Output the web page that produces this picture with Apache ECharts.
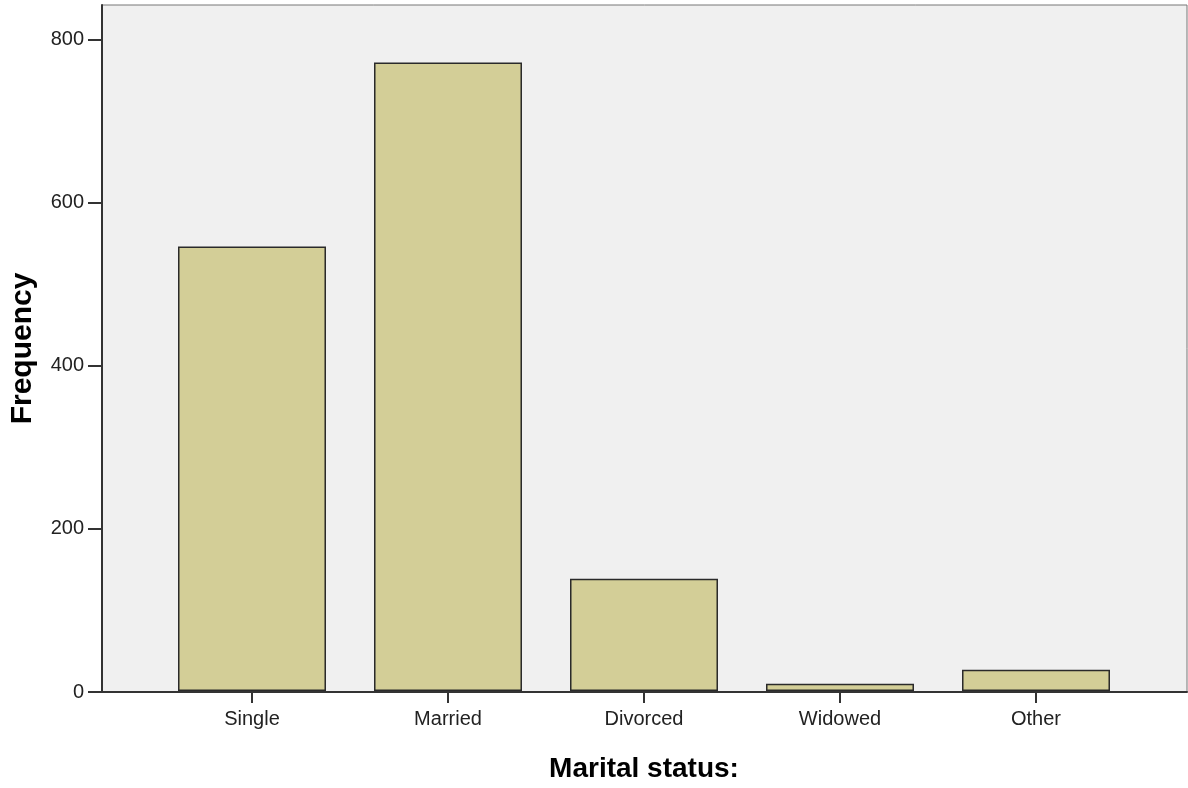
<!DOCTYPE html>
<html>
<head>
<meta charset="utf-8">
<script src="https://cdn.jsdelivr.net/npm/echarts@6/dist/echarts.min.js"></script>
<style>
html,body{margin:0;padding:0;background:#fff;}
#chart{width:1188px;height:788px;}
</style>
</head>
<body>
<div id="chart"></div>
<script>
const categories = ['Single', 'Married', 'Divorced', 'Widowed', 'Other'];
const frequencies = [546, 772, 138, 9, 26];
const yTicks = [0, 200, 400, 600, 800];
const yMax = 842.5;

const chart = echarts.init(document.getElementById('chart'), null, {renderer: 'canvas'});
const FONT = '"Liberation Sans", Arial, sans-serif';
chart.setOption({
  animation: false,
  backgroundColor: '#ffffff',
  grid: [
    {left: 99, right: 1, top: 5, bottom: 96, show: true, backgroundColor: '#f0f0f0', borderColor: '#777', borderWidth: 1},
    {left: 154, right: 54, top: 5, bottom: 96}
  ],
  xAxis: [
    {gridIndex: 0, type: 'value', min: 0, max: 1,
      axisLine: {show: true, onZero: false, lineStyle: {color: '#333', width: 2}},
      axisTick: {show: false}, axisLabel: {show: false}, splitLine: {show: false}},
    {gridIndex: 1, type: 'category', data: categories,
      axisLine: {show: false},
      axisTick: {show: true, alignWithLabel: true, length: 12, lineStyle: {color: '#333', width: 2}},
      axisLabel: {fontSize: 20, color: '#222', margin: 18, fontFamily: FONT},
      name: 'Marital status:', nameLocation: 'middle', nameGap: 64,
      nameTextStyle: {fontSize: 28, fontWeight: 'bold', color: '#000', fontFamily: FONT}}
  ],
  yAxis: [
    {gridIndex: 0, type: 'value', min: 0, max: yMax,
      axisLine: {show: true, lineStyle: {color: '#333', width: 2}},
      axisTick: {show: true, length: 14, customValues: yTicks, lineStyle: {color: '#333', width: 2}},
      axisLabel: {fontSize: 20, color: '#222', margin: 18, customValues: yTicks, fontFamily: FONT},
      splitLine: {show: false},
      name: 'Frequency', nameLocation: 'middle', nameGap: 64,
      nameTextStyle: {fontSize: 30, fontWeight: 'bold', color: '#000', fontFamily: FONT}},
    {gridIndex: 1, type: 'value', min: 0, max: yMax, show: false, splitLine: {show: false}}
  ],
  series: [{
    type: 'bar', xAxisIndex: 1, yAxisIndex: 1,
    data: frequencies,
    barWidth: '75.5%',
    itemStyle: {color: '#d3ce97', borderColor: '#2a2a2a', borderWidth: 1.5}
  }]
});
</script>
</body>
</html>
